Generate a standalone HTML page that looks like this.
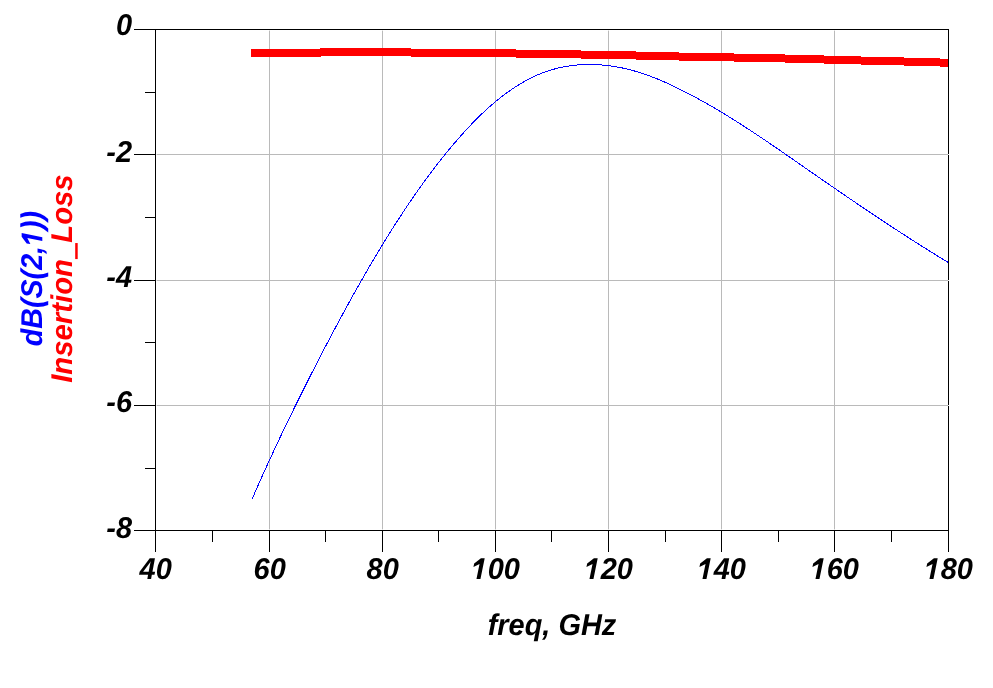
<!DOCTYPE html>
<html><head><meta charset="utf-8"><style>
html,body{margin:0;padding:0;background:#fff;width:993px;height:688px;overflow:hidden}
svg{display:block}
text{font-family:"Liberation Sans",sans-serif;font-weight:bold;font-style:italic;font-size:30px;text-rendering:geometricPrecision;font-kerning:none}
.h{fill:transparent}
</style></head><body>
<svg width="993" height="688" viewBox="0 0 993 688" shape-rendering="crispEdges">
<rect width="993" height="688" fill="#fff"/>
<rect x="269" y="31" width="1" height="498" fill="#bababa"/>
<rect x="269" y="30" width="1" height="1" fill="#e4e4e4"/>
<rect x="269" y="529" width="1" height="1" fill="#e4e4e4"/>
<rect x="382" y="31" width="1" height="498" fill="#bababa"/>
<rect x="382" y="30" width="1" height="1" fill="#e4e4e4"/>
<rect x="382" y="529" width="1" height="1" fill="#e4e4e4"/>
<rect x="495" y="31" width="1" height="498" fill="#bababa"/>
<rect x="495" y="30" width="1" height="1" fill="#e4e4e4"/>
<rect x="495" y="529" width="1" height="1" fill="#e4e4e4"/>
<rect x="608" y="31" width="1" height="498" fill="#bababa"/>
<rect x="608" y="30" width="1" height="1" fill="#e4e4e4"/>
<rect x="608" y="529" width="1" height="1" fill="#e4e4e4"/>
<rect x="721" y="31" width="1" height="498" fill="#bababa"/>
<rect x="721" y="30" width="1" height="1" fill="#e4e4e4"/>
<rect x="721" y="529" width="1" height="1" fill="#e4e4e4"/>
<rect x="834" y="31" width="1" height="498" fill="#bababa"/>
<rect x="834" y="30" width="1" height="1" fill="#e4e4e4"/>
<rect x="834" y="529" width="1" height="1" fill="#e4e4e4"/>
<rect x="157" y="154" width="791" height="1" fill="#bababa"/>
<rect x="156" y="154" width="1" height="1" fill="#e4e4e4"/>
<rect x="157" y="280" width="791" height="1" fill="#bababa"/>
<rect x="156" y="280" width="1" height="1" fill="#e4e4e4"/>
<rect x="157" y="405" width="791" height="1" fill="#bababa"/>
<rect x="156" y="405" width="1" height="1" fill="#e4e4e4"/>
<rect x="134" y="29" width="815" height="1" fill="#000"/>
<rect x="134" y="530" width="815" height="1" fill="#000"/>
<rect x="155" y="29" width="1" height="523" fill="#000"/>
<rect x="948" y="29" width="1" height="523" fill="#000"/>
<rect x="134" y="154" width="21" height="1" fill="#000"/>
<rect x="134" y="280" width="21" height="1" fill="#000"/>
<rect x="134" y="405" width="21" height="1" fill="#000"/>
<rect x="145" y="92" width="10" height="1" fill="#000"/>
<rect x="145" y="217" width="10" height="1" fill="#000"/>
<rect x="145" y="342" width="10" height="1" fill="#000"/>
<rect x="145" y="468" width="10" height="1" fill="#000"/>
<rect x="269" y="531" width="1" height="21" fill="#000"/>
<rect x="382" y="531" width="1" height="21" fill="#000"/>
<rect x="495" y="531" width="1" height="21" fill="#000"/>
<rect x="608" y="531" width="1" height="21" fill="#000"/>
<rect x="721" y="531" width="1" height="21" fill="#000"/>
<rect x="834" y="531" width="1" height="21" fill="#000"/>
<rect x="212" y="531" width="1" height="11" fill="#000"/>
<rect x="325" y="531" width="1" height="11" fill="#000"/>
<rect x="438" y="531" width="1" height="11" fill="#000"/>
<rect x="551" y="531" width="1" height="11" fill="#000"/>
<rect x="665" y="531" width="1" height="11" fill="#000"/>
<rect x="778" y="531" width="1" height="11" fill="#000"/>
<rect x="891" y="531" width="1" height="11" fill="#000"/>
<rect x="948" y="154" width="1" height="1" fill="#e4e4e4"/>
<rect x="948" y="280" width="1" height="1" fill="#e4e4e4"/>
<rect x="948" y="405" width="1" height="1" fill="#e4e4e4"/>
<rect x="251" y="49" width="69" height="8" fill="#f00"/>
<rect x="320" y="48" width="91" height="8" fill="#f00"/>
<rect x="411" y="49" width="105" height="8" fill="#f00"/>
<rect x="516" y="50" width="65" height="8" fill="#f00"/>
<rect x="581" y="51" width="55" height="8" fill="#f00"/>
<rect x="636" y="52" width="43" height="8" fill="#f00"/>
<rect x="679" y="53" width="55" height="8" fill="#f00"/>
<rect x="734" y="54" width="51" height="8" fill="#f00"/>
<rect x="785" y="55" width="39" height="8" fill="#f00"/>
<rect x="824" y="56" width="37" height="8" fill="#f00"/>
<rect x="861" y="57" width="43" height="8" fill="#f00"/>
<rect x="904" y="58" width="36" height="8" fill="#f00"/>
<rect x="940" y="59" width="8" height="8" fill="#f00"/>
<rect x="320" y="56" width="1" height="1" fill="#f00"/>
<path d="M252.32,498.56 L252.64,497.80 L252.97,497.05 L253.30,496.30 L253.63,495.54 L253.95,494.79 L254.28,494.04 L254.61,493.28 L254.94,492.53 L255.27,491.78 L255.60,491.02 L255.93,490.27 L256.26,489.52 L256.59,488.77 L256.92,488.01 L257.25,487.26 L257.58,486.51 L257.92,485.76 L258.25,485.01 L258.58,484.25 L258.91,483.50 L259.25,482.75 L259.58,482.00 L259.92,481.25 L260.25,480.50 L260.59,479.75 L260.92,479.00 L261.26,478.25 L261.59,477.50 L261.93,476.75 L262.26,476.00 L262.60,475.25 L262.94,474.50 L263.28,473.75 L263.61,473.00 L263.95,472.25 L264.29,471.50 L264.63,470.75 L264.97,470.00 L265.31,469.25 L265.65,468.51 L265.99,467.76 L266.33,467.01 L266.67,466.26 L267.01,465.51 L267.35,464.77 L267.69,464.02 L268.04,463.27 L268.38,462.52 L268.72,461.78 L269.06,461.03 L269.41,460.28 L269.75,459.54 L270.10,458.79 L270.44,458.04 L270.78,457.30 L271.13,456.55 L271.47,455.80 L271.82,455.06 L272.17,454.31 L272.51,453.57 L272.86,452.82 L273.20,452.07 L273.55,451.33 L273.90,450.58 L274.25,449.84 L274.59,449.09 L274.94,448.35 L275.29,447.61 L275.64,446.86 L275.99,446.12 L276.34,445.37 L276.69,444.63 L277.04,443.88 L277.39,443.14 L277.74,442.40 L278.09,441.65 L278.44,440.91 L278.79,440.17 L279.14,439.42 L279.49,438.68 L279.85,437.94 L280.20,437.19 L280.55,436.45 L280.90,435.71 L281.26,434.97 L281.61,434.22 L281.97,433.48 L282.32,432.74 L282.67,432.00 L283.03,431.26 L283.38,430.52 L283.74,429.77 L284.09,429.03 L284.45,428.29 L284.80,427.55 L285.16,426.81 L285.52,426.07 L285.87,425.33 L286.23,424.59 L286.59,423.85 L286.95,423.11 L287.30,422.37 L287.66,421.63 L288.02,420.89 L288.38,420.15 L288.74,419.41 L289.10,418.67 L289.46,417.93 L289.81,417.19 L290.17,416.45 L290.53,415.71 L290.89,414.97 L291.26,414.23 L291.62,413.49 L291.98,412.76 L292.34,412.02 L292.70,411.28 L293.06,410.54 L293.42,409.80 L293.79,409.06 L294.15,408.33 L294.51,407.59 L294.87,406.85 L295.24,406.11 L295.60,405.38 L295.96,404.64 L296.33,403.90 L296.69,403.16 L297.05,402.43 L297.42,401.69 L297.78,400.95 L298.15,400.22 L298.51,399.48 L298.88,398.74 L299.24,398.01 L299.61,397.27 L299.98,396.54 L300.34,395.80 L300.71,395.06 L301.08,394.33 L301.44,393.59 L301.81,392.86 L302.18,392.12 L302.54,391.39 L302.91,390.65 L303.28,389.92 L303.65,389.18 L304.02,388.45 L304.38,387.71 L304.75,386.98 L305.12,386.24 L305.49,385.51 L305.86,384.78 L306.23,384.04 L306.60,383.31 L306.97,382.57 L307.34,381.84 L307.71,381.11 L308.08,380.37 L308.45,379.64 L308.82,378.91 L309.19,378.17 L309.56,377.44 L309.93,376.71 L310.31,375.97 L310.68,375.24 L311.05,374.51 L311.42,373.78 L311.79,373.04 L312.17,372.31 L312.54,371.58 L312.91,370.85 L313.29,370.12 L313.66,369.38 L314.03,368.65 L314.41,367.92 L314.78,367.19 L315.15,366.46 L315.53,365.73 L315.90,364.99 L316.28,364.26 L316.65,363.53 L317.03,362.80 L317.40,362.07 L317.78,361.34 L318.15,360.61 L318.53,359.88 L318.90,359.15 L319.28,358.42 L319.66,357.69 L320.03,356.96 L320.41,356.23 L320.79,355.50 L321.17,354.77 L321.54,354.04 L321.92,353.31 L322.30,352.58 L322.68,351.85 L323.06,351.12 L323.43,350.40 L323.81,349.67 L324.19,348.94 L324.57,348.21 L324.95,347.48 L325.33,346.75 L325.71,346.02 L326.09,345.30 L326.47,344.57 L326.85,343.84 L327.23,343.11 L327.62,342.39 L328.00,341.66 L328.38,340.93 L328.76,340.20 L329.14,339.48 L329.53,338.75 L329.91,338.02 L330.29,337.30 L330.68,336.57 L331.06,335.84 L331.44,335.12 L331.83,334.39 L332.21,333.67 L332.60,332.94 L332.98,332.22 L333.37,331.49 L333.75,330.76 L334.14,330.04 L334.52,329.31 L334.91,328.59 L335.30,327.86 L335.68,327.14 L336.07,326.42 L336.46,325.69 L336.84,324.97 L337.23,324.24 L337.62,323.52 L338.01,322.79 L338.40,322.07 L338.79,321.35 L339.18,320.62 L339.56,319.90 L339.95,319.18 L340.34,318.46 L340.74,317.73 L341.13,317.01 L341.52,316.29 L341.91,315.56 L342.30,314.84 L342.69,314.12 L343.08,313.40 L343.48,312.68 L343.87,311.96 L344.26,311.23 L344.66,310.51 L345.05,309.79 L345.44,309.07 L345.84,308.35 L346.23,307.63 L346.63,306.91 L347.02,306.19 L347.42,305.47 L347.81,304.75 L348.21,304.03 L348.61,303.31 L349.00,302.59 L349.40,301.87 L349.80,301.15 L350.20,300.43 L350.59,299.71 L350.99,298.99 L351.39,298.27 L351.79,297.55 L352.19,296.84 L352.59,296.12 L352.99,295.40 L353.39,294.68 L353.79,293.96 L354.19,293.25 L354.59,292.53 L355.00,291.81 L355.40,291.10 L355.80,290.38 L356.20,289.66 L356.61,288.94 L357.01,288.23 L357.41,287.51 L357.82,286.80 L358.22,286.08 L358.63,285.36 L359.03,284.65 L359.44,283.93 L359.85,283.22 L360.25,282.50 L360.66,281.79 L361.07,281.07 L361.47,280.36 L361.88,279.64 L362.29,278.93 L362.70,278.22 L363.11,277.50 L363.52,276.79 L363.93,276.08 L364.34,275.36 L364.75,274.65 L365.16,273.94 L365.57,273.22 L365.98,272.51 L366.39,271.80 L366.81,271.09 L367.22,270.37 L367.63,269.66 L368.04,268.95 L368.46,268.24 L368.87,267.53 L369.29,266.82 L369.70,266.11 L370.12,265.40 L370.54,264.69 L370.95,263.98 L371.37,263.27 L371.79,262.56 L372.20,261.85 L372.62,261.14 L373.04,260.43 L373.46,259.72 L373.88,259.01 L374.30,258.31 L374.72,257.60 L375.14,256.89 L375.56,256.18 L375.98,255.48 L376.40,254.77 L376.83,254.06 L377.25,253.36 L377.67,252.65 L378.10,251.94 L378.52,251.24 L378.94,250.53 L379.37,249.83 L379.79,249.12 L380.22,248.42 L380.65,247.72 L381.07,247.01 L381.50,246.31 L381.93,245.61 L382.36,244.90 L382.79,244.20 L383.22,243.50 L383.64,242.80 L384.08,242.10 L384.51,241.39 L384.94,240.69 L385.37,239.99 L385.80,239.29 L386.23,238.59 L386.67,237.89 L387.10,237.19 L387.53,236.49 L387.97,235.80 L388.40,235.10 L388.84,234.40 L389.27,233.70 L389.71,233.00 L390.15,232.31 L390.58,231.61 L391.02,230.91 L391.46,230.22 L391.90,229.52 L392.34,228.83 L392.78,228.13 L393.22,227.44 L393.66,226.74 L394.10,226.05 L394.54,225.36 L394.99,224.66 L395.43,223.97 L395.87,223.28 L396.32,222.59 L396.76,221.90 L397.21,221.20 L397.65,220.51 L398.10,219.82 L398.55,219.13 L398.99,218.44 L399.44,217.76 L399.89,217.07 L400.34,216.38 L400.79,215.69 L401.24,215.00 L401.69,214.32 L402.14,213.63 L402.59,212.94 L403.04,212.26 L403.50,211.57 L403.95,210.89 L404.40,210.20 L404.86,209.52 L405.31,208.83 L405.77,208.15 L406.23,207.47 L406.68,206.79 L407.14,206.10 L407.60,205.42 L408.06,204.74 L408.52,204.06 L408.98,203.38 L409.44,202.70 L409.90,202.02 L410.36,201.34 L410.82,200.67 L411.29,199.99 L411.75,199.31 L412.21,198.63 L412.68,197.96 L413.14,197.28 L413.61,196.61 L414.08,195.93 L414.55,195.26 L415.01,194.58 L415.48,193.91 L415.95,193.24 L416.42,192.56 L416.89,191.89 L417.36,191.22 L417.84,190.55 L418.31,189.88 L418.78,189.21 L419.26,188.54 L419.73,187.87 L420.21,187.20 L420.69,186.54 L421.16,185.87 L421.64,185.20 L422.12,184.54 L422.60,183.87 L423.08,183.21 L423.56,182.54 L424.04,181.88 L424.53,181.21 L425.01,180.55 L425.49,179.89 L425.98,179.23 L426.46,178.57 L426.95,177.91 L427.44,177.25 L427.92,176.59 L428.41,175.93 L428.90,175.27 L429.39,174.61 L429.88,173.95 L430.38,173.30 L430.87,172.64 L431.36,171.99 L431.86,171.33 L432.35,170.68 L432.85,170.02 L433.34,169.37 L433.84,168.72 L434.34,168.06 L434.84,167.41 L435.34,166.76 L435.84,166.11 L436.34,165.46 L436.84,164.81 L437.35,164.17 L437.85,163.52 L438.36,162.87 L438.86,162.23 L439.37,161.58 L439.88,160.93 L440.38,160.29 L440.89,159.65 L441.40,159.00 L441.92,158.36 L442.43,157.72 L442.94,157.08 L443.45,156.44 L443.97,155.80 L444.49,155.16 L445.00,154.52 L445.52,153.88 L446.04,153.24 L446.56,152.61 L447.08,151.97 L447.60,151.34 L448.12,150.70 L448.64,150.07 L449.17,149.43 L449.69,148.80 L450.22,148.17 L450.75,147.54 L451.27,146.91 L451.80,146.28 L452.33,145.65 L452.86,145.02 L453.40,144.39 L453.93,143.77 L454.46,143.14 L455.00,142.52 L455.53,141.89 L456.07,141.27 L456.61,140.64 L457.15,140.02 L457.69,139.40 L458.23,138.78 L458.77,138.16 L459.31,137.54 L459.86,136.92 L460.40,136.30 L460.95,135.68 L461.49,135.07 L462.04,134.45 L462.59,133.84 L463.14,133.23 L463.70,132.61 L464.25,132.00 L464.80,131.39 L465.36,130.78 L465.91,130.18 L466.47,129.57 L467.03,128.96 L467.59,128.36 L468.15,127.75 L468.72,127.15 L469.28,126.55 L469.85,125.95 L470.41,125.35 L470.98,124.75 L471.55,124.16 L472.12,123.56 L472.69,122.97 L473.27,122.38 L473.84,121.79 L474.42,121.20 L474.99,120.61 L475.57,120.02 L476.15,119.44 L476.73,118.86 L477.32,118.27 L477.90,117.69 L478.49,117.11 L479.08,116.54 L479.67,115.96 L480.26,115.39 L480.85,114.81 L481.44,114.24 L482.04,113.67 L482.63,113.11 L483.23,112.54 L483.83,111.98 L484.43,111.41 L485.04,110.85 L485.64,110.29 L486.25,109.74 L486.85,109.18 L487.46,108.63 L488.08,108.08 L488.69,107.53 L489.30,106.98 L489.92,106.44 L490.54,105.89 L491.16,105.35 L491.78,104.81 L492.40,104.27 L493.03,103.74 L493.65,103.21 L494.28,102.67 L494.91,102.15 L495.54,101.62 L496.18,101.09 L496.81,100.57 L497.45,100.05 L498.09,99.53 L498.73,99.02 L499.38,98.50 L500.02,97.99 L500.67,97.48 L501.32,96.98 L501.97,96.47 L502.62,95.97 L503.28,95.47 L503.93,94.98 L504.59,94.48 L505.25,93.99 L505.91,93.50 L506.58,93.01 L507.24,92.53 L507.91,92.05 L508.58,91.57 L509.26,91.09 L509.93,90.62 L510.61,90.15 L511.29,89.68 L511.97,89.21 L512.65,88.75 L513.33,88.29 L514.02,87.84 L514.71,87.39 L515.40,86.94 L516.09,86.49 L516.79,86.05 L517.48,85.61 L518.18,85.17 L518.88,84.74 L519.58,84.31 L520.29,83.88 L520.99,83.46 L521.70,83.04 L522.41,82.63 L523.12,82.22 L523.84,81.81 L524.55,81.41 L525.27,81.01 L525.99,80.61 L526.71,80.22 L527.43,79.83 L528.16,79.45 L528.88,79.07 L529.61,78.69 L530.34,78.32 L531.08,77.95 L531.81,77.59 L532.55,77.23 L533.29,76.88 L534.03,76.53 L534.77,76.19 L535.51,75.85 L536.26,75.51 L537.01,75.18 L537.76,74.85 L538.51,74.53 L539.26,74.22 L540.02,73.90 L540.78,73.60 L541.53,73.30 L542.30,73.00 L543.06,72.71 L543.82,72.42 L544.59,72.14 L545.36,71.86 L546.13,71.59 L546.90,71.32 L547.67,71.06 L548.45,70.80 L549.22,70.55 L550.00,70.31 L550.78,70.07 L551.56,69.83 L552.34,69.60 L553.13,69.38 L553.91,69.16 L554.70,68.94 L555.49,68.73 L556.28,68.53 L557.07,68.33 L557.86,68.14 L558.65,67.95 L559.45,67.77 L560.25,67.59 L561.04,67.42 L561.84,67.25 L562.64,67.09 L563.44,66.93 L564.25,66.78 L565.05,66.63 L565.85,66.49 L566.66,66.35 L567.47,66.22 L568.27,66.10 L569.08,65.97 L569.89,65.86 L570.70,65.75 L571.51,65.64 L572.32,65.54 L573.14,65.44 L573.95,65.35 L574.76,65.26 L575.58,65.18 L576.40,65.10 L577.21,65.03 L578.03,64.96 L578.85,64.90 L579.66,64.84 L580.48,64.79 L581.30,64.74 L582.12,64.69 L582.94,64.65 L583.76,64.62 L584.58,64.59 L585.40,64.56 L586.23,64.54 L587.05,64.53 L587.87,64.52 L588.69,64.51 L589.52,64.51 L590.34,64.51 L591.16,64.52 L591.99,64.53 L592.81,64.54 L593.63,64.56 L594.46,64.59 L595.28,64.62 L596.10,64.65 L596.93,64.69 L597.75,64.73 L598.57,64.78 L599.40,64.83 L600.22,64.89 L601.04,64.95 L601.87,65.01 L602.69,65.08 L603.51,65.15 L604.34,65.23 L605.16,65.31 L605.98,65.40 L606.80,65.49 L607.62,65.58 L608.44,65.68 L609.26,65.78 L610.08,65.89 L610.90,66.00 L611.72,66.11 L612.54,66.23 L613.35,66.36 L614.17,66.48 L614.99,66.61 L615.80,66.75 L616.62,66.89 L617.43,67.03 L618.24,67.18 L619.06,67.33 L619.87,67.49 L620.68,67.64 L621.49,67.81 L622.30,67.97 L623.10,68.15 L623.91,68.32 L624.72,68.50 L625.52,68.68 L626.33,68.87 L627.13,69.06 L627.93,69.25 L628.73,69.45 L629.53,69.65 L630.33,69.85 L631.13,70.06 L631.92,70.27 L632.72,70.49 L633.51,70.71 L634.30,70.93 L635.10,71.16 L635.89,71.39 L636.68,71.62 L637.46,71.86 L638.25,72.10 L639.04,72.34 L639.82,72.59 L640.61,72.84 L641.39,73.09 L642.17,73.35 L642.95,73.61 L643.73,73.87 L644.51,74.13 L645.29,74.40 L646.06,74.67 L646.84,74.95 L647.61,75.22 L648.39,75.50 L649.16,75.79 L649.93,76.07 L650.70,76.36 L651.47,76.65 L652.24,76.95 L653.00,77.24 L653.77,77.54 L654.54,77.84 L655.30,78.15 L656.06,78.45 L656.83,78.76 L657.59,79.07 L658.35,79.39 L659.11,79.70 L659.87,80.02 L660.63,80.34 L661.38,80.66 L662.14,80.99 L662.90,81.32 L663.65,81.65 L664.40,81.98 L665.16,82.31 L665.91,82.65 L666.66,82.98 L667.41,83.32 L668.16,83.66 L668.91,84.01 L669.66,84.35 L670.40,84.70 L671.15,85.05 L671.90,85.40 L672.64,85.75 L673.39,86.10 L674.13,86.45 L674.87,86.81 L675.61,87.17 L676.35,87.53 L677.09,87.89 L677.83,88.25 L678.57,88.61 L679.31,88.98 L680.05,89.34 L680.78,89.71 L681.52,90.08 L682.26,90.45 L682.99,90.82 L683.72,91.19 L684.46,91.57 L685.19,91.94 L685.92,92.32 L686.65,92.69 L687.38,93.07 L688.11,93.45 L688.84,93.83 L689.57,94.21 L690.30,94.59 L691.03,94.97 L691.75,95.36 L692.48,95.74 L693.20,96.13 L693.93,96.52 L694.65,96.91 L695.38,97.29 L696.10,97.69 L696.82,98.08 L697.54,98.47 L698.26,98.86 L698.98,99.26 L699.70,99.65 L700.42,100.05 L701.14,100.45 L701.86,100.85 L702.58,101.25 L703.30,101.65 L704.01,102.05 L704.73,102.45 L705.44,102.85 L706.16,103.26 L706.87,103.66 L707.59,104.07 L708.30,104.48 L709.01,104.88 L709.72,105.29 L710.43,105.70 L711.14,106.11 L711.86,106.53 L712.56,106.94 L713.27,107.35 L713.98,107.77 L714.69,108.18 L715.40,108.60 L716.11,109.01 L716.81,109.43 L717.52,109.85 L718.22,110.27 L718.93,110.69 L719.63,111.11 L720.34,111.53 L721.04,111.95 L721.75,112.38 L722.45,112.80 L723.15,113.23 L723.85,113.65 L724.55,114.08 L725.26,114.51 L725.96,114.93 L726.66,115.36 L727.36,115.79 L728.06,116.22 L728.75,116.65 L729.45,117.09 L730.15,117.52 L730.85,117.95 L731.55,118.39 L732.24,118.82 L732.94,119.26 L733.63,119.69 L734.33,120.13 L735.02,120.56 L735.72,121.00 L736.41,121.44 L737.11,121.88 L737.80,122.32 L738.49,122.76 L739.19,123.20 L739.88,123.64 L740.57,124.09 L741.26,124.53 L741.95,124.97 L742.65,125.42 L743.34,125.86 L744.03,126.31 L744.72,126.75 L745.41,127.20 L746.09,127.65 L746.78,128.09 L747.47,128.54 L748.16,128.99 L748.85,129.44 L749.54,129.89 L750.22,130.34 L750.91,130.79 L751.60,131.24 L752.28,131.69 L752.97,132.15 L753.65,132.60 L754.34,133.05 L755.03,133.51 L755.71,133.96 L756.40,134.41 L757.08,134.87 L757.76,135.32 L758.45,135.78 L759.13,136.24 L759.81,136.69 L760.50,137.15 L761.18,137.61 L761.86,138.07 L762.54,138.52 L763.23,138.98 L763.91,139.44 L764.59,139.90 L765.27,140.36 L765.95,140.82 L766.63,141.28 L767.31,141.74 L767.99,142.21 L768.68,142.67 L769.36,143.13 L770.04,143.59 L770.71,144.05 L771.39,144.52 L772.07,144.98 L772.75,145.44 L773.43,145.91 L774.11,146.37 L774.79,146.84 L775.47,147.30 L776.15,147.77 L776.82,148.23 L777.50,148.70 L778.18,149.16 L778.86,149.63 L779.53,150.10 L780.21,150.56 L780.89,151.03 L781.57,151.50 L782.24,151.96 L782.92,152.43 L783.60,152.90 L784.27,153.36 L784.95,153.83 L785.63,154.30 L786.30,154.77 L786.98,155.24 L787.65,155.71 L788.33,156.17 L789.01,156.64 L789.68,157.11 L790.36,157.58 L791.03,158.05 L791.71,158.52 L792.39,158.99 L793.06,159.46 L793.74,159.93 L794.41,160.40 L795.09,160.87 L795.76,161.34 L796.44,161.81 L797.11,162.28 L797.79,162.75 L798.46,163.22 L799.14,163.69 L799.81,164.16 L800.49,164.63 L801.16,165.10 L801.84,165.57 L802.51,166.04 L803.19,166.51 L803.86,166.98 L804.54,167.45 L805.21,167.92 L805.89,168.39 L806.56,168.86 L807.24,169.32 L807.91,169.79 L808.59,170.26 L809.26,170.73 L809.94,171.20 L810.61,171.67 L811.29,172.14 L811.96,172.61 L812.64,173.08 L813.31,173.55 L813.99,174.02 L814.66,174.49 L815.34,174.96 L816.01,175.43 L816.69,175.89 L817.36,176.36 L818.04,176.83 L818.72,177.30 L819.39,177.77 L820.07,178.24 L820.74,178.71 L821.42,179.17 L822.09,179.64 L822.77,180.11 L823.45,180.58 L824.12,181.04 L824.80,181.51 L825.47,181.98 L826.15,182.45 L826.83,182.91 L827.50,183.38 L828.18,183.85 L828.86,184.31 L829.53,184.78 L830.21,185.25 L830.89,185.71 L831.56,186.18 L832.24,186.65 L832.92,187.11 L833.59,187.58 L834.27,188.05 L834.95,188.51 L835.62,188.98 L836.30,189.44 L836.98,189.91 L837.66,190.37 L838.33,190.84 L839.01,191.30 L839.69,191.77 L840.37,192.23 L841.04,192.70 L841.72,193.16 L842.40,193.63 L843.08,194.09 L843.76,194.55 L844.43,195.02 L845.11,195.48 L845.79,195.95 L846.47,196.41 L847.15,196.87 L847.83,197.33 L848.51,197.80 L849.19,198.26 L849.86,198.72 L850.54,199.19 L851.22,199.65 L851.90,200.11 L852.58,200.57 L853.26,201.03 L853.94,201.50 L854.62,201.96 L855.30,202.42 L855.98,202.88 L856.66,203.34 L857.34,203.80 L858.02,204.26 L858.70,204.72 L859.38,205.18 L860.06,205.64 L860.74,206.10 L861.42,206.56 L862.10,207.02 L862.79,207.48 L863.47,207.94 L864.15,208.40 L864.83,208.86 L865.51,209.32 L866.19,209.78 L866.87,210.24 L867.56,210.69 L868.24,211.15 L868.92,211.61 L869.60,212.07 L870.29,212.52 L870.97,212.98 L871.65,213.44 L872.33,213.90 L873.02,214.35 L873.70,214.81 L874.38,215.27 L875.07,215.72 L875.75,216.18 L876.43,216.63 L877.12,217.09 L877.80,217.54 L878.49,218.00 L879.17,218.45 L879.85,218.91 L880.54,219.36 L881.22,219.82 L881.91,220.27 L882.59,220.72 L883.28,221.18 L883.96,221.63 L884.65,222.08 L885.33,222.54 L886.02,222.99 L886.71,223.44 L887.39,223.89 L888.08,224.35 L888.76,224.80 L889.45,225.25 L890.14,225.70 L890.82,226.15 L891.51,226.60 L892.20,227.05 L892.89,227.50 L893.57,227.95 L894.26,228.40 L894.95,228.85 L895.64,229.30 L896.33,229.75 L897.01,230.20 L897.70,230.65 L898.39,231.10 L899.08,231.55 L899.77,231.99 L900.46,232.44 L901.15,232.89 L901.84,233.34 L902.53,233.78 L903.22,234.23 L903.91,234.68 L904.60,235.12 L905.29,235.57 L905.98,236.01 L906.67,236.46 L907.36,236.90 L908.05,237.35 L908.74,237.79 L909.44,238.24 L910.13,238.68 L910.82,239.13 L911.51,239.57 L912.20,240.01 L912.90,240.46 L913.59,240.90 L914.28,241.34 L914.98,241.78 L915.67,242.22 L916.36,242.67 L917.06,243.11 L917.75,243.55 L918.44,243.99 L919.14,244.43 L919.83,244.87 L920.53,245.31 L921.22,245.75 L921.92,246.19 L922.61,246.63 L923.31,247.07 L924.01,247.50 L924.70,247.94 L925.40,248.38 L926.10,248.82 L926.79,249.26 L927.49,249.69 L928.19,250.13 L928.88,250.57 L929.58,251.00 L930.28,251.44 L930.98,251.87 L931.68,252.31 L932.37,252.74 L933.07,253.18 L933.77,253.61 L934.47,254.05 L935.17,254.48 L935.87,254.91 L936.57,255.35 L937.27,255.78 L937.97,256.21 L938.67,256.64 L939.37,257.07 L940.07,257.51 L940.78,257.94 L941.48,258.37 L942.18,258.80 L942.88,259.23 L943.58,259.66 L944.29,260.09 L944.99,260.52 L945.69,260.94 L946.39,261.37 L947.10,261.80 L947.80,262.23" fill="none" stroke="#00f" stroke-width="1" shape-rendering="crispEdges"/>
<g shape-rendering="auto" style="will-change:transform">
<g transform="translate(132.00,35.00) scale(0.965,1)" style="fill:#000"><text x="-16.68" y="0">0</text></g>
<g transform="translate(132.00,162.00) scale(0.965,1)" style="fill:#000"><text x="-26.67 -16.68" y="0">-2</text></g>
<g transform="translate(132.00,287.00) scale(0.965,1)" style="fill:#000"><text x="-26.67 -16.68" y="0">-4</text></g>
<g transform="translate(132.00,412.00) scale(0.965,1)" style="fill:#000"><text x="-26.67 -16.68" y="0">-6</text></g>
<g transform="translate(132.00,538.00) scale(0.965,1)" style="fill:#000"><text x="-26.67 -16.68" y="0">-8</text></g>
<g transform="translate(155.70,579.00) scale(0.965,1)" style="fill:#000"><text x="-16.68 0.00" y="0">40</text></g>
<g transform="translate(269.70,579.00) scale(0.965,1)" style="fill:#000"><text x="-16.68 0.00" y="0">60</text></g>
<g transform="translate(382.70,579.00) scale(0.965,1)" style="fill:#000"><text x="-16.68 0.00" y="0">80</text></g>
<g transform="translate(495.70,579.00) scale(0.965,1)" style="fill:#000"><text x="-25.03 -8.34 8.34" y="0"><tspan class="h">1</tspan>00</text><path transform="translate(-25.03,0) scale(0.014648,-0.014648)" d="M349 0L565 1020L135 815L185 1065L666 1409H930L630 0Z"/></g>
<g transform="translate(608.70,579.00) scale(0.965,1)" style="fill:#000"><text x="-25.03 -8.34 8.34" y="0"><tspan class="h">1</tspan>20</text><path transform="translate(-25.03,0) scale(0.014648,-0.014648)" d="M349 0L565 1020L135 815L185 1065L666 1409H930L630 0Z"/></g>
<g transform="translate(721.70,579.00) scale(0.965,1)" style="fill:#000"><text x="-25.03 -8.34 8.34" y="0"><tspan class="h">1</tspan>40</text><path transform="translate(-25.03,0) scale(0.014648,-0.014648)" d="M349 0L565 1020L135 815L185 1065L666 1409H930L630 0Z"/></g>
<g transform="translate(834.70,579.00) scale(0.965,1)" style="fill:#000"><text x="-25.03 -8.34 8.34" y="0"><tspan class="h">1</tspan>60</text><path transform="translate(-25.03,0) scale(0.014648,-0.014648)" d="M349 0L565 1020L135 815L185 1065L666 1409H930L630 0Z"/></g>
<g transform="translate(948.70,579.00) scale(0.965,1)" style="fill:#000"><text x="-25.03 -8.34 8.34" y="0"><tspan class="h">1</tspan>80</text><path transform="translate(-25.03,0) scale(0.014648,-0.014648)" d="M349 0L565 1020L135 815L185 1065L666 1409H930L630 0Z"/></g>
<g transform="translate(552.00,635.00) scale(0.965,1)" style="fill:#000"><text x="-66.67 -56.68 -45.01 -28.32 -10.00 -1.66 6.67 30.01 51.67" y="0">freq, GHz</text></g>
<g transform="translate(42.30,278.60) rotate(-90) scale(0.955,1)" style="fill:#00f"><text x="-70.83 -52.51 -30.84 -20.85 -0.84 9.15 25.83 34.17 50.85 60.84" y="0">dB(S(2,<tspan class="h">1</tspan>))</text><path transform="translate(34.17,0) scale(0.014648,-0.014648)" d="M349 0L565 1020L135 815L185 1065L666 1409H930L630 0Z"/></g>
<g transform="translate(72.00,278.60) rotate(-90) scale(0.977,1)" style="fill:#f00"><text x="-106.69 -98.36 -80.03 -63.35 -46.66 -34.99 -25.00 -16.66 1.66 19.99 36.67 55.00 73.32 90.01" y="0">Insertion<tspan class="h">_</tspan>Loss</text><rect x="19.99" y="3.20" width="16.40" height="2.50"/></g>
</g>
</svg>
</body></html>
